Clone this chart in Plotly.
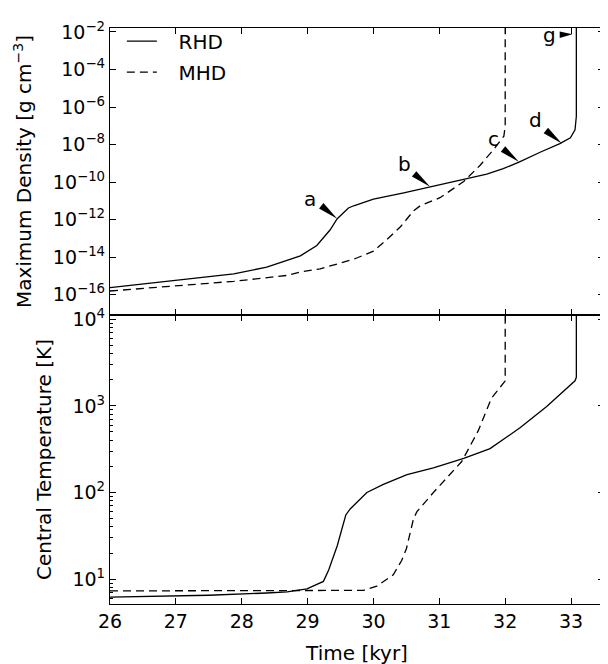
import math
import plotly.graph_objects as go
from plotly.subplots import make_subplots

# ---------------- data ----------------
# Maximum density, RHD run
rhd_rho_time = [26.0, 26.86, 27.88, 28.38, 28.89, 29.14, 29.34, 29.45, 29.5, 29.57, 29.62,
                29.7, 29.9, 30.0, 30.46, 30.86, 31.37, 31.72, 31.97, 32.21, 32.53, 32.83,
                32.99, 33.06, 33.08, 33.08]
rhd_rho = [2.4e-16, 5.2e-16, 1.3e-15, 2.95e-15, 1.17e-14, 4.2e-14, 2.8e-13, 1.12e-12,
           1.66e-12, 3.0e-12, 4.2e-12, 5.5e-12, 8.9e-12, 1.23e-11, 2.7e-11, 5.6e-11,
           1.32e-10, 2.7e-10, 5.2e-10, 1.17e-9, 3.9e-9, 1.12e-8, 2.3e-8, 6.2e-8, 3.2e-7,
           2.0e-2]

# Maximum density, MHD run
mhd_rho_time = [26.0, 26.86, 27.88, 28.69, 28.89, 29.19, 29.7, 30.0, 30.2, 30.41, 30.61,
                30.71, 31.01, 31.37, 31.62, 31.83, 31.98, 32.0, 32.0]
mhd_rho = [1.58e-16, 2.7e-16, 5.2e-16, 1.07e-15, 1.62e-15, 2.4e-15, 7.8e-15, 2.1e-14,
           8.5e-14, 4.2e-13, 3.0e-12, 5.5e-12, 1.48e-11, 1.07e-10, 7.9e-10, 5.8e-9,
           2.8e-8, 9.5e-8, 2.0e-2]

# Central temperature, RHD run
rhd_temp_time = [26.0, 27.5, 28.38, 28.69, 28.99, 29.24, 29.32, 29.45, 29.58, 29.65, 29.9,
                 30.15, 30.51, 30.91, 31.37, 31.77, 32.23, 32.63, 33.06, 33.08, 33.08]
rhd_temp = [6.2, 6.5, 6.9, 7.1, 7.7, 9.4, 12.7, 24.3, 55, 65, 100, 124, 161, 192, 248, 321,
            562, 982, 1950, 2140, 16000]

# Central temperature, MHD run
mhd_temp_time = [26.0, 29.85, 30.05, 30.3, 30.43, 30.5, 30.61, 30.66, 30.91, 31.11, 31.34,
                 31.59, 31.79, 32.0, 32.0]
mhd_temp = [7.3, 7.4, 8.3, 11.2, 16.5, 22.4, 50.5, 60, 100, 148, 228, 515, 1220, 1950, 16000]

# Markers "a".."g" on the RHD density curve
mark_labels = ["a", "b", "c", "d", "g"]
mark_time = [29.45, 30.86, 32.21, 32.86, 33.02]
mark_rho = [1.12e-12, 5.6e-11, 1.17e-9, 1.15e-8, 7.6e-3]

# Tick labels
rho_tick_vals = [1e-2, 1e-4, 1e-6, 1e-8, 1e-10, 1e-12, 1e-14, 1e-16]
rho_tick_text = ["10<sup>\u22122</sup>", "10<sup>\u22124</sup>", "10<sup>\u22126</sup>",
                 "10<sup>\u22128</sup>", "10<sup>\u221210</sup>", "10<sup>\u221212</sup>",
                 "10<sup>\u221214</sup>", "10<sup>\u221216</sup>"]
temp_tick_vals = [10, 100, 1000, 10000]
temp_tick_text = ["10<sup>1</sup>", "10<sup>2</sup>", "10<sup>3</sup>", "10<sup>4</sup>"]
time_ticks = [26, 27, 28, 29, 30, 31, 32, 33]

# ---------------- figure ----------------
FONT = "DejaVu Sans"
fig = make_subplots(rows=2, cols=1, shared_xaxes=True, vertical_spacing=0)

solid = dict(color="black", width=1.3)
dashed = dict(color="black", width=1.3, dash="8px,5px")
PAD = "\u00a0\u00a0\u2009"  # gap between legend line sample and its label

fig.add_trace(go.Scatter(x=rhd_rho_time, y=rhd_rho, mode="lines", line=solid,
                         name=PAD + "RHD", legendgroup="r"), row=1, col=1)
fig.add_trace(go.Scatter(x=mhd_rho_time, y=mhd_rho, mode="lines", line=dashed,
                         name=PAD + "MHD", legendgroup="m"), row=1, col=1)
fig.add_trace(go.Scatter(x=rhd_temp_time, y=rhd_temp, mode="lines", line=solid,
                         showlegend=False), row=2, col=1)
fig.add_trace(go.Scatter(x=mhd_temp_time, y=mhd_temp, mode="lines", line=dashed,
                         showlegend=False), row=2, col=1)

# wedge-shaped pointers (pixel-sized paths anchored at the data points)
wedge_std = "M0,0 L-13.8,15.7 L-18.2,10.3 Z"
wedge_g = "M0,0 L-12.7,2.6 L-12.7,-3.8 Z"
for lab, tt, rr in zip(mark_labels, mark_time, mark_rho):
    fig.add_shape(type="path", xref="x", yref="y", xsizemode="pixel", ysizemode="pixel",
                  xanchor=tt, yanchor=rr, path=wedge_g if lab == "g" else wedge_std,
                  fillcolor="black", line=dict(width=0))
    if lab == "g":
        xs, ys = -23, -1
    elif lab == "a":
        xs, ys = -27, 20
    else:
        xs, ys = -26, 23
    fig.add_annotation(xref="x", yref="y", x=tt, y=math.log10(rr), text=lab,
                       showarrow=False, xshift=xs, yshift=ys,
                       font=dict(family=FONT, size=20, color="black"))

axis_common = dict(showline=True, linecolor="black", linewidth=1.3, mirror="allticks",
                   ticks="inside", ticklen=6, tickwidth=1, tickcolor="black",
                   showgrid=False, zeroline=False,
                   tickfont=dict(family=FONT, size=19, color="black"))

fig.update_xaxes(**axis_common, range=[26, 33.5], tickmode="array", tickvals=time_ticks,
                 ticktext=[str(v) for v in time_ticks])
fig.update_xaxes(showticklabels=False, row=1, col=1)
fig.update_xaxes(title=dict(text="Time [kyr]", font=dict(family=FONT, size=20, color="black")),
                 row=2, col=1)

fig.update_yaxes(**axis_common)
fig.update_yaxes(type="log", range=[-17.08, -1.79], tickmode="array", tickvals=rho_tick_vals,
                 ticktext=rho_tick_text, domain=[0.5017, 1.0],
                 title=dict(text="Maximum Density [g cm<sup>\u22123</sup>]",
                            font=dict(family=FONT, size=20, color="black")),
                 row=1, col=1)
minor_vals = [m * 10 ** k for k in range(0, 4) for m in range(2, 10)]
fig.update_yaxes(type="log", range=[0.712, 4.05], tickmode="array", tickvals=temp_tick_vals,
                 ticktext=temp_tick_text, domain=[0.0, 0.5017],
                 minor=dict(ticks="inside", ticklen=3, tickwidth=1, tickcolor="black",
                            tickmode="array", tickvals=minor_vals, showgrid=False),
                 title=dict(text="Central Temperature [K]",
                            font=dict(family=FONT, size=20, color="black")),
                 row=2, col=1)

fig.update_layout(
    width=608, height=664,
    margin=dict(l=102, r=11, t=12, b=59),
    paper_bgcolor="white", plot_bgcolor="white",
    font=dict(family=FONT, size=20, color="black"),
    showlegend=True,
    legend=dict(x=0.024, y=1.011, xanchor="left", yanchor="top", bgcolor="rgba(0,0,0,0)",
                font=dict(family=FONT, size=20, color="black"), itemwidth=30,
                tracegroupgap=2),
)

fig.write_html("out.html")
